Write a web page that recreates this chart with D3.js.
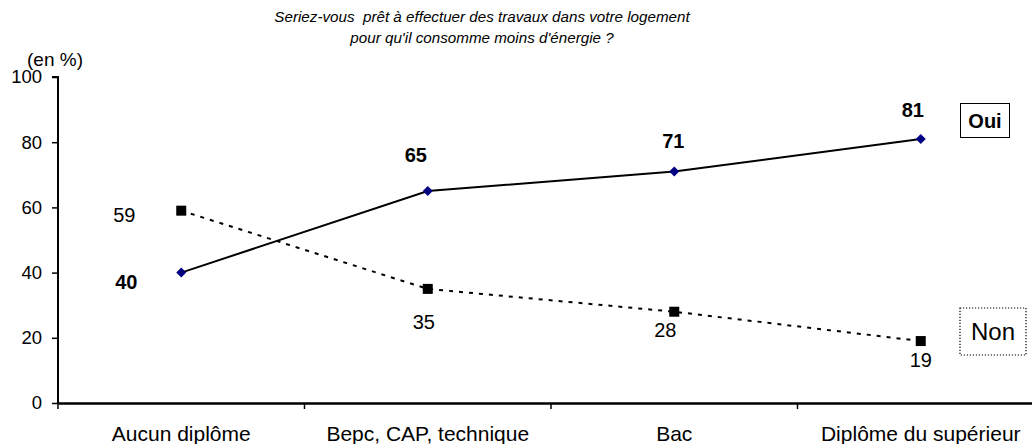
<!DOCTYPE html>
<meta charset="utf-8">
<style>
  body { margin: 0; background: #fff; }
  text { font-family: "Liberation Sans", Arial, sans-serif; fill: #000; }
</style>
<svg width="1032" height="444"></svg>
<script src="https://d3js.org/d3.v7.min.js"></script>
<script>

	var categories = ["Aucun diplôme", "Bepc, CAP, technique", "Bac", "Diplôme du supérieur"];
	var oui = [40, 65, 71, 81];
	var non = [59, 35, 28, 19];
	var yTicks = [0, 20, 40, 60, 80, 100];

	var svg = d3.select("svg");

	var x = d3.scaleBand().domain(categories).range([58, 1044]),
		y = d3.scaleLinear().domain([0, 100]).range([403, 77]);

	var cx = function(i) { return x(categories[i]) + x.bandwidth() / 2; };

	// axes
	var yAxis = svg.append("g")
		.attr("transform", "translate(58,0)")
		.call(d3.axisLeft(y).tickValues(yTicks).tickSize(6).tickPadding(10));
	yAxis.select(".domain").attr("stroke-width", 2).attr("d", "M-6,77H0V403");
	yAxis.selectAll(".tick line").attr("stroke-width", 1.5);
	yAxis.selectAll("text").style("font-size", "18.5px").attr("font-family", null);

	var xAxis = svg.append("g")
		.attr("transform", "translate(0,403)")
		.call(d3.axisBottom(x).tickSize(0).tickPadding(23));
	xAxis.select(".domain").attr("stroke-width", 2.5);
	xAxis.selectAll("text").style("font-size", "21px").attr("font-family", null);
	xAxis.selectAll(".bound")
		.data(categories)
		.enter().append("line")
		.attr("x1", function(d) { return x(d); })
		.attr("x2", function(d) { return x(d); })
		.attr("y1", 0).attr("y2", 6)
		.attr("stroke", "#000").attr("stroke-width", 1.5);

	// lines
	var line = d3.line()
		.x(function(d, i) { return cx(i); })
		.y(function(d) { return y(d); });

	svg.append("path").datum(non)
		.attr("fill", "none").attr("stroke", "#000")
		.attr("stroke-width", 2).attr("stroke-dasharray", "4,6")
		.attr("d", line);

	svg.append("path").datum(oui)
		.attr("fill", "none").attr("stroke", "#000")
		.attr("stroke-width", 2)
		.attr("d", line);

	svg.selectAll(".sq").data(non).enter().append("rect")
		.attr("x", function(d, i) { return cx(i) - 5; })
		.attr("y", function(d) { return y(d) - 5; })
		.attr("width", 10).attr("height", 10)
		.attr("fill", "#000");

	svg.selectAll(".dm").data(oui).enter().append("path")
		.attr("d", "M0,-5L5,0L0,5L-5,0Z")
		.attr("transform", function(d, i) { return "translate(" + cx(i) + "," + y(d) + ")"; })
		.attr("fill", "#000080");

	// value labels
	var ouiOff = [[-55, 16], [-12, -29], [-1, -24], [-8, -22]];
	var nonOff = [[-57, 11], [-4, 40], [-9, 25], [0, 26]];

	svg.selectAll(".lo").data(oui).enter().append("text")
		.attr("x", function(d, i) { return cx(i) + ouiOff[i][0]; })
		.attr("y", function(d, i) { return y(d) + ouiOff[i][1]; })
		.attr("text-anchor", "middle").attr("font-weight", "bold")
		.style("font-size", "20px")
		.text(function(d) { return d; });

	svg.selectAll(".ln").data(non).enter().append("text")
		.attr("x", function(d, i) { return cx(i) + nonOff[i][0]; })
		.attr("y", function(d, i) { return y(d) + nonOff[i][1]; })
		.attr("text-anchor", "middle")
		.style("font-size", "20px")
		.text(function(d) { return d; });

	// legends
	svg.append("rect").attr("x", 960.5).attr("y", 103.5).attr("width", 49).attr("height", 34)
		.attr("fill", "#fff").attr("stroke", "#000").attr("stroke-width", 1);
	svg.append("text").attr("x", 985).attr("y", 128).attr("text-anchor", "middle")
		.attr("font-weight", "bold").style("font-size", "20px").text("Oui");

	svg.append("rect").attr("x", 960).attr("y", 308).attr("width", 66).attr("height", 47)
		.attr("fill", "#fff").attr("stroke", "#000").attr("stroke-width", 1.2)
		.attr("stroke-dasharray", "1.2,1.8");
	svg.append("text").attr("x", 993).attr("y", 340).attr("text-anchor", "middle")
		.style("font-size", "24px").text("Non");

	// titles
	svg.append("text").attr("x", 482).attr("y", 22).attr("text-anchor", "middle")
		.attr("font-style", "italic").style("font-size", "15.2px")
		.style("white-space", "pre")
		.text("Seriez-vous  prêt à effectuer des travaux dans votre logement");
	svg.append("text").attr("x", 482).attr("y", 43).attr("text-anchor", "middle")
		.attr("font-style", "italic").style("font-size", "15.2px")
		.text("pour qu'il consomme moins d'énergie ?");

	svg.append("text").attr("x", 27).attr("y", 66)
		.style("font-size", "19px").text("(en %)");

</script>
